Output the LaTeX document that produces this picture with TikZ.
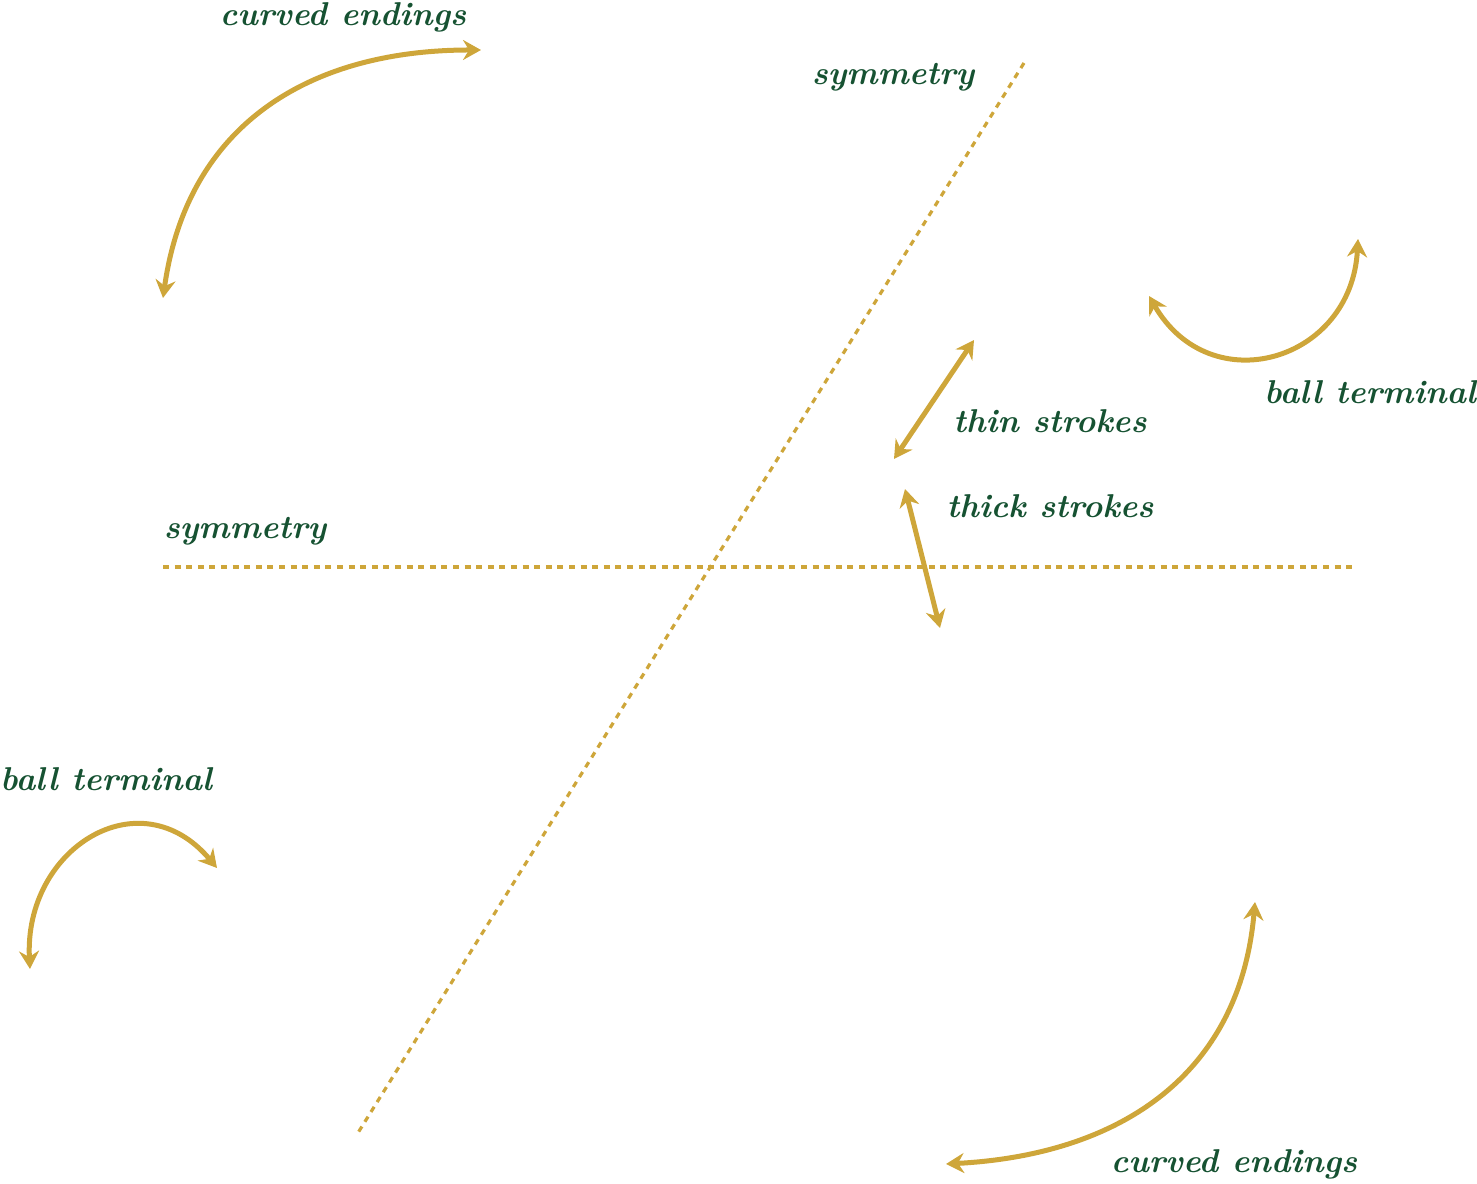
\documentclass[tikz,border=0pt]{standalone}
\usepackage{xcolor}
\usepackage{tikz}
\usetikzlibrary{arrows.meta, positioning}

\definecolor{gold}{RGB}{206,166,58}
\definecolor{pine}{RGB}{22,82,50}

\tikzset{
  lbl/.style={text=pine, font=\fontsize{16.5}{18}\selectfont\bfseries\itshape, inner sep=0pt},
  axis/.style={draw=gold, line width=1.6pt, dash pattern=on 3pt off 2.8pt},
  pointer/.style={draw=gold, line width=2.5pt,
    {Stealth[length=9pt,width=10pt,inset=3pt]}-{Stealth[length=9pt,width=10pt,inset=3pt]}}
}

\begin{document}
\begin{tikzpicture}[x=0.5pt, y=0.5pt]
\useasboundingbox (0,0) rectangle (1477,1183);

% symmetry axes
\coordinate (d1) at (1024,1120);
\coordinate (d2) at (356,47);
\coordinate (h1) at (163,616);
\coordinate (h2) at (1352,616);
\draw [axis] (d1) -- (d2);
\draw [axis] (h1) -- (h2);
\node (symd) [lbl] at (893,1106) {symmetry};
\node (symh) [lbl] at (245,652) {symmetry};

% curved endings
\node (ce1) [lbl] at (343,1166) {curved endings};
\coordinate (ce1a) at (163,885);
\coordinate (ce1b) at (481,1133);
\draw [pointer] (ce1a) to[out=82, in=180, looseness=1.1] (ce1b);

\node (ce2) [lbl] at (1234,19) {curved endings};
\coordinate (ce2a) at (946,19);
\coordinate (ce2b) at (1255,281);
\draw [pointer] (ce2a) to[out=3, in=-95, looseness=1.1] (ce2b);

% strokes
\node (thin) [lbl] at (1050,762) {thin strokes};
\node (thick) [lbl, below=85*0.5pt of thin.center, anchor=center] {thick strokes};
\coordinate (tn1) at (894,724);
\coordinate (tn2) at (974,843);
\coordinate (tk1) at (905,694);
\coordinate (tk2) at (940,555);
\draw [pointer] (tn1) -- (tn2);
\draw [pointer] (tk1) -- (tk2);

% ball terminals
\node (bt1) [lbl] at (1370,791) {ball terminal};
\coordinate (bt1a) at (1149,887);
\coordinate (bt1b) at (1358,944);
\draw [pointer] (bt1a) to[out=-60, in=-93, looseness=1.45] (bt1b);

\node (bt2) [lbl] at (106,404) {ball terminal};
\coordinate (bt2a) at (30,214);
\coordinate (bt2b) at (217,315);
\draw [pointer] (bt2a) to[out=93, in=130, looseness=1.45] (bt2b);
\end{tikzpicture}
\end{document}
